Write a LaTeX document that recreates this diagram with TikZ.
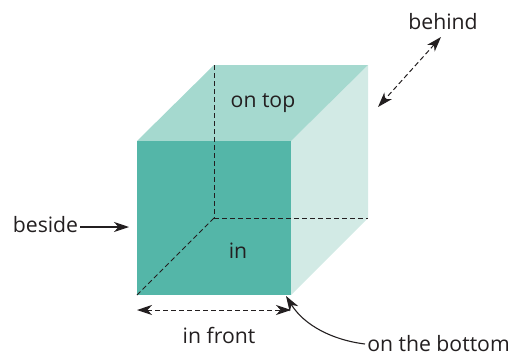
\documentclass[tikz,border=0pt]{standalone}
\usepackage{fontspec}
\setmainfont{Open Sans}
\usetikzlibrary{arrows.meta}
\definecolor{frontc}{HTML}{54B6A8}
\definecolor{topc}{HTML}{A5D9CF}
\definecolor{sidec}{HTML}{D2EAE5}
\definecolor{inkc}{HTML}{231F20}
\tikzset{
  x=1pt,y=-1pt,
  lbl/.style={font=\fontsize{21.2}{25}\selectfont,text=inkc,inner sep=0pt,anchor=base},
  tipa/.style={-{Stealth[length=15pt,width=10pt,inset=4.5pt]}},
  both/.style={{Stealth[length=15pt,width=10pt,inset=4.5pt]}-{Stealth[length=15pt,width=10pt,inset=4.5pt]}},
  conn/.style={draw=inkc,line width=1.1pt},
  hid/.style={draw=inkc,line width=1pt,dash pattern=on 5pt off 3pt},
}
\begin{document}
\begin{tikzpicture}
\useasboundingbox (0,0) rectangle (513,356);
\coordinate (fa) at (137,141);
\coordinate (fb) at (291,141);
\coordinate (fc) at (291,295);
\coordinate (fd) at (137,295);
\coordinate (ba) at (214,65);
\coordinate (bb) at (368,65);
\coordinate (bc) at (368,218);
\coordinate (bd) at (214,218);
\fill[sidec] (fb) -- (bb) -- (bc) -- (fc) -- cycle;
\fill[topc] (fa) -- (ba) -- (bb) -- (fb) -- cycle;
\fill[frontc] (fa) -- (fb) -- (fc) -- (fd) -- cycle;
\draw[hid] (ba) -- (bd);
\draw[hid] (bd) -- (bc);
\draw[hid] (bd) -- (fd);
\node[lbl] (top) at (263,107) {on top};
\node[lbl] (inn) at (238,258.5) {in};
\node[lbl] (beh) at (443,29) {behind};
\node[lbl] (bes) at (45.5,232.5) {beside};
\node[lbl] (fro) at (219,343) {in front};
\node[lbl] (bot) at (438.5,351.5) {on the bottom};
\coordinate (b1) at (441,37);
\coordinate (b2) at (378,107);
\coordinate (s1) at (80,227);
\coordinate (s2) at (129,227);
\coordinate (f1) at (137,310);
\coordinate (f2) at (291,310);
\coordinate (o1) at (365,344);
\coordinate (o2) at (286,296);
\draw[hid,both] (b1) -- (b2);
\draw[conn,tipa] (s1) -- (s2);
\draw[hid,both] (f1) -- (f2);
\draw[conn,tipa] (o1) .. controls (332,340) and (304,325) .. (o2);
\end{tikzpicture}
\end{document}
